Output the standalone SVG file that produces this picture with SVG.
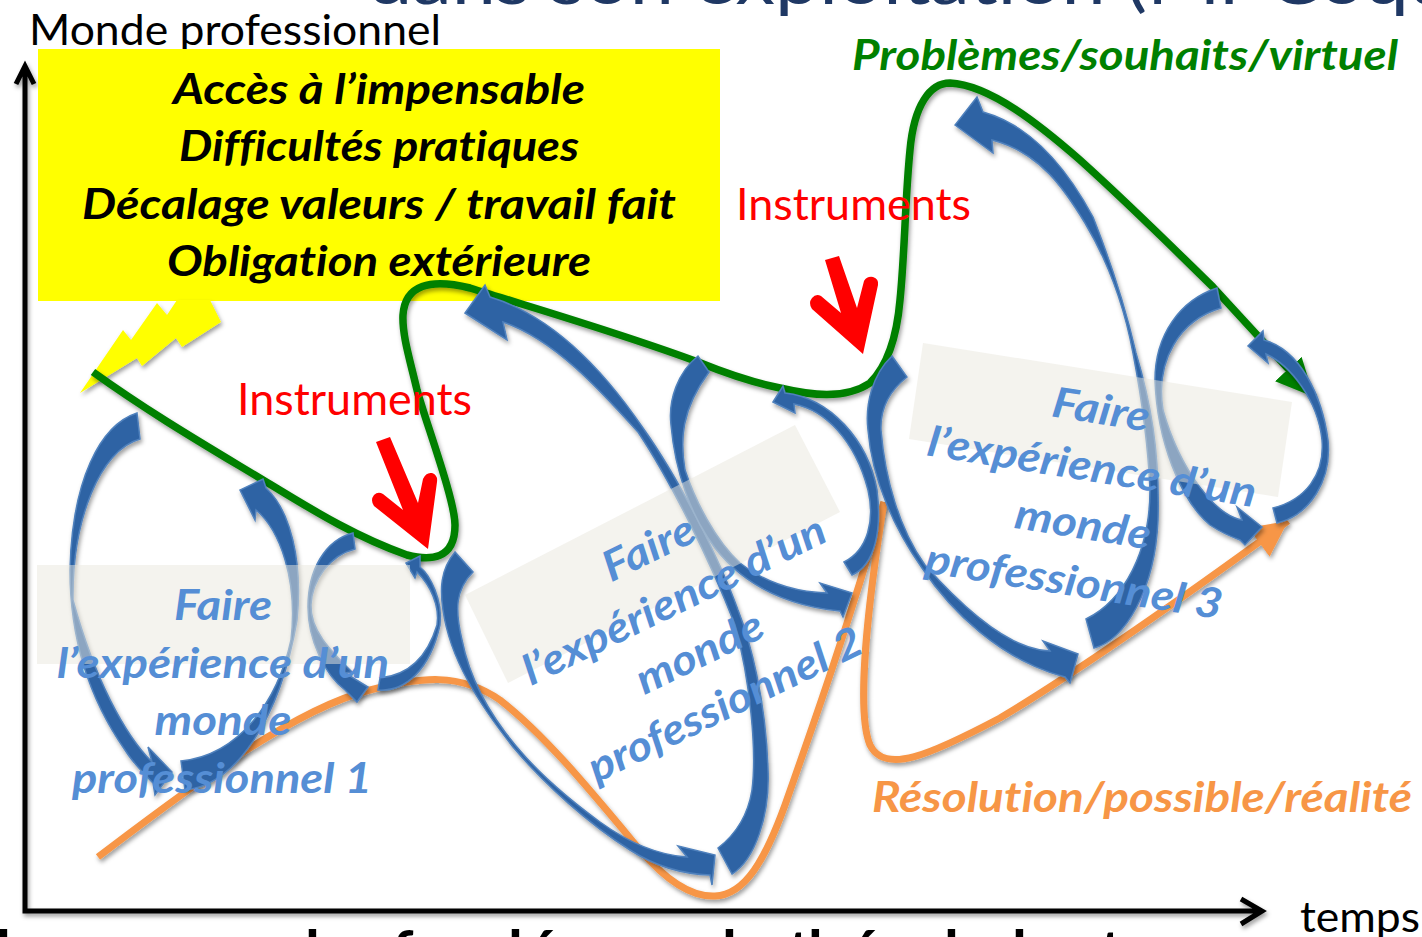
<svg xmlns="http://www.w3.org/2000/svg" width="1422" height="937" viewBox="0 0 1422 937">
<style>
text{font-variant-ligatures:none}
.bg{fill:#fff}
.blue{fill:#2f64a4;stroke:#4f81bd;stroke-width:1.5;stroke-linejoin:miter}
.pale{fill:#e9e7dd;fill-opacity:.5}
.reg{font-family:Lato,"Liberation Sans",sans-serif}
.bi{font-family:Lato,"Liberation Sans",sans-serif;font-weight:700;font-style:italic}
.lbl{font-size:42px;fill:#558ed5;text-anchor:middle}
.yt{font-size:42px;fill:#000;text-anchor:middle}
.red{fill:#f00}
.inst{font-size:44px;fill:#f00}
.ax{fill:none;stroke:#000;stroke-width:5}
</style>
<defs>
<filter id="sh" x="-10%" y="-10%" width="120%" height="120%"><feDropShadow dx="1.5" dy="3" stdDeviation="2" flood-color="#000" flood-opacity=".38"/></filter>
<marker id="gh" markerUnits="userSpaceOnUse" markerWidth="46" markerHeight="46" refX="38" refY="20" orient="auto"><path d="M0,2 L38,20 L0,38 Z" fill="#008000"/></marker>
<marker id="oh" markerUnits="userSpaceOnUse" markerWidth="46" markerHeight="46" refX="36" refY="20" orient="auto"><path d="M0,2 L36,20 L0,38 Z" fill="#f79646"/></marker>
</defs>
<rect class="bg" width="1422" height="937"/>
<text id="title" class="reg" x="368" y="4" font-size="68" fill="#1f3864" textLength="1085" lengthAdjust="spacingAndGlyphs">dans son exploitation (Mr Coqu</text>
<text id="footer" class="reg" font-weight="700" font-size="60" y="973" fill="#000"><tspan x="-4">l</tspan><tspan x="305">l</tspan><tspan x="392">f</tspan><tspan x="508">l</tspan><tspan x="526">é</tspan><tspan x="722">l</tspan><tspan x="788">t</tspan><tspan x="808">h</tspan><tspan x="848">é</tspan><tspan x="944">l</tspan><tspan x="1012">l</tspan><tspan x="1100">t</tspan></text>
<text id="ylabel" class="reg" x="29" y="45" font-size="42" fill="#000" textLength="412" lengthAdjust="spacingAndGlyphs">Monde professionnel</text>
<text id="xlabel" class="reg" x="1300" y="932" font-size="42" fill="#000" textLength="120" lengthAdjust="spacingAndGlyphs">temps</text>
<g id="connectors">
<g id="axes" filter="url(#sh)"><path class="ax" d="M16,84 L25,66 L34,84 M25,68 L25,911 L1261,911 M1241,899 L1262,911 L1241,924"/></g>
<path id="orange-1" filter="url(#sh)" fill="none" stroke="#f79646" stroke-width="7" d="M98,857 C180,795 290,710 370,690 C420,677 460,672 500,700 C545,735 590,790 640,850 C670,885 695,897 715,896 C745,895 765,860 785,805 C815,720 850,620 884,502"/>
<path id="orange-2" filter="url(#sh)" fill="none" stroke="#f79646" stroke-width="7" marker-end="url(#oh)" d="M884,502 C870,590 855,710 870,745 C885,775 930,755 1000,718 C1080,670 1180,600 1288,521"/>
</g>
<g id="yellow-box"><rect x="38" y="49" width="682" height="252" fill="#ff0"/></g>
<g id="lightning" filter="url(#sh)"><path fill="#ff0" d="M80,393 L123,330 L131,340 L157,303 L167,315 L177,300 L210,300 L221,322 L182,347 L176,338 L142,366 L137,358 Z"/></g>
<path id="green" filter="url(#sh)" fill="none" stroke="#008000" stroke-width="7.5" marker-end="url(#gh)" d="M93,372 C150,413 205,445 263,480 C300,502 350,535 407,555 C430,561 455,560 455,525 C455,500 425,420 417,390 C410,360 402,335 403,315 C405,285 430,278 470,288 C540,310 620,333 698,362 C730,375 755,383 780,388 C810,395 845,400 870,383 C888,365 897,335 900,300 C905,250 905,200 910,150 C914,105 930,83 950,83 C990,85 1040,125 1080,160 C1130,205 1170,245 1213,287 L1314,397"/>
<g id="instruments-arrow-1"><path class="red" d="M376,442 L390,437 L418,503 L423,479 Q426,472 432,473 Q438,475 437,482 L428,549 L374,506 Q370,500 374,495 Q378,491 383,494 L403,510 Z"/></g>
<g id="instruments-arrow-2"><path class="red" d="M825,260 L839,256 L857,308 L864,281 Q867,276 873,277 Q879,279 878,285 L863,354 L812,309 Q808,303 812,298 Q816,293 821,296 L841,313 Z"/></g>
<g id="cycle-1" filter="url(#sh)">
<path class="blue" d="M137,413 C100,425 72,480 70,570 C70,640 90,700 125,750 C130,758 140,770 153,783 L155,795 L172,772 L148,747 L152,762 C125,735 95,680 73,600 C72,520 100,450 140,439 Z"/>
<path class="blue" d="M181,761 C240,755 278,700 291,640 C298,580 280,530 256,510 L255,520 L240,490 L263,479 L266,488 C290,510 303,560 297,620 C280,720 235,785 185,790 Z"/>
<path class="blue" d="M353,533 C325,540 308,570 308,607 C308,640 325,675 345,690 L357,702 L368,687 L345,673 L352,672 C330,650 310,630 311,605 C312,580 330,555 355,549 Z"/>
<path class="blue" d="M378,690 C405,692 430,670 440,625 C443,600 430,575 420,567 L420,556 L406,563 L415,578 L417,572 C430,585 440,605 437,625 C428,655 410,675 380,678 Z"/>
</g>
<g id="cycle-2" filter="url(#sh)">
<path class="blue" d="M455,552 C440,570 440,590 443,610 C450,660 480,705 513,747 C545,785 590,825 630,850 C655,866 680,874 710,875 L712,885 L715,855 L678,846 L687,857 C655,855 625,840 600,822 C570,800 540,775 516,746 C490,715 470,680 462,640 C455,610 455,590 473,572 Z"/>
<path class="blue" d="M465,313 L507,340 L503,322 C555,340 600,390 638,432 C670,480 710,560 735,625 C750,680 757,750 752,790 C748,815 735,835 718,848 L732,874 C755,860 770,815 768,770 C766,700 750,640 738,610 C720,560 680,480 643,428 C600,365 550,315 490,297 L485,285 Z"/>
<path class="blue" d="M698,356 C678,372 668,400 671,425 C675,470 690,515 715,548 C740,580 780,605 840,611 L843,617 L852,593 L820,583 L827,593 C790,592 762,580 740,563 C715,540 695,500 685,470 C680,440 681,410 709,372 Z"/>
<path class="blue" d="M773,402 L795,413 L794,404 C825,410 855,440 868,490 C875,520 868,550 844,562 L852,575 C875,565 882,530 877,490 C868,440 830,398 785,393 L783,386 Z"/>
</g>
<g id="cycle-3" filter="url(#sh)">
<path class="blue" d="M892,356 C872,375 865,405 868,430 C872,480 895,530 922,568 C950,610 1000,660 1065,677 L1070,683 L1078,654 L1043,641 L1050,651 C1010,650 965,610 925,565 C900,530 885,480 881,430 C880,405 893,388 907,377 Z"/>
<path class="blue" d="M955,125 L993,153 L992,140 C1040,152 1065,190 1085,223 C1110,265 1125,310 1133,353 C1142,400 1148,440 1150,490 C1150,550 1125,600 1086,619 L1094,648 C1125,640 1155,590 1158,520 C1160,450 1150,400 1136,353 C1125,305 1110,260 1093,217 C1065,165 1030,125 983,112 L977,97 Z"/>
<path class="blue" d="M1217,288 C1180,300 1155,335 1155,380 C1157,440 1180,500 1210,525 C1222,533 1232,537 1240,540 L1245,545 L1262,527 L1237,507 L1242,520 C1215,515 1180,470 1163,410 C1155,360 1180,320 1221,308 Z"/>
<path class="blue" d="M1248,346 L1268,363 L1266,354 C1290,365 1318,400 1322,440 C1325,475 1305,500 1273,508 L1277,523 C1310,515 1332,480 1328,440 C1322,395 1300,350 1264,340 L1263,331 Z"/>
</g>
<g id="monde-1">
<rect class="pale" x="37" y="565" width="373" height="99"/>
<g class="bi lbl"><text x="223" y="620" textLength="98" lengthAdjust="spacingAndGlyphs">Faire</text><text x="223" y="678" textLength="332" lengthAdjust="spacingAndGlyphs">l’expérience d’un</text><text x="223" y="735" textLength="137" lengthAdjust="spacingAndGlyphs">monde</text><text x="222" y="793" textLength="300" lengthAdjust="spacingAndGlyphs">professionnel 1</text></g>
</g>
<g id="monde-2">
<polygon class="pale" points="465,595 795,425 840,512 508,683"/>
<g class="bi lbl" transform="translate(655,561) rotate(-26)"><text x="0" y="0" textLength="98" lengthAdjust="spacingAndGlyphs">Faire</text><text x="0" y="58" textLength="332" lengthAdjust="spacingAndGlyphs">l’expérience d’un</text><text x="0" y="116" textLength="137" lengthAdjust="spacingAndGlyphs">monde</text><text x="0" y="174" textLength="300" lengthAdjust="spacingAndGlyphs">professionnel 2</text></g>
</g>
<g id="monde-3">
<polygon class="pale" points="923,343 1292,402 1278,497 909,439"/>
<g class="bi lbl" transform="translate(1099,424) rotate(9)"><text x="0" y="0" textLength="98" lengthAdjust="spacingAndGlyphs">Faire</text><text x="0" y="58" textLength="332" lengthAdjust="spacingAndGlyphs">l’expérience d’un</text><text x="0" y="116" textLength="137" lengthAdjust="spacingAndGlyphs">monde</text><text x="0" y="174" textLength="300" lengthAdjust="spacingAndGlyphs">professionnel 3</text></g>
</g>
<g id="yellow-text" class="bi yt">
<text x="379" y="104" textLength="412" lengthAdjust="spacingAndGlyphs">Accès à l’impensable</text>
<text x="379" y="161" textLength="400" lengthAdjust="spacingAndGlyphs">Difficultés pratiques</text>
<text x="379" y="219" textLength="594" lengthAdjust="spacingAndGlyphs">Décalage valeurs / travail fait</text>
<text x="379" y="276" textLength="424" lengthAdjust="spacingAndGlyphs">Obligation extérieure</text>
</g>
<g id="labels">
<text class="reg inst" x="237" y="415" textLength="235" lengthAdjust="spacingAndGlyphs">Instruments</text>
<text class="reg inst" x="736" y="220" textLength="235" lengthAdjust="spacingAndGlyphs">Instruments</text>
<text class="bi" x="852" y="70" font-size="42" fill="#008000" textLength="546" lengthAdjust="spacingAndGlyphs">Problèmes/souhaits/virtuel</text>
<text class="bi" x="872" y="812" font-size="42" fill="#f79646" textLength="540" lengthAdjust="spacingAndGlyphs">Résolution/possible/réalité</text>
</g>
</svg>
